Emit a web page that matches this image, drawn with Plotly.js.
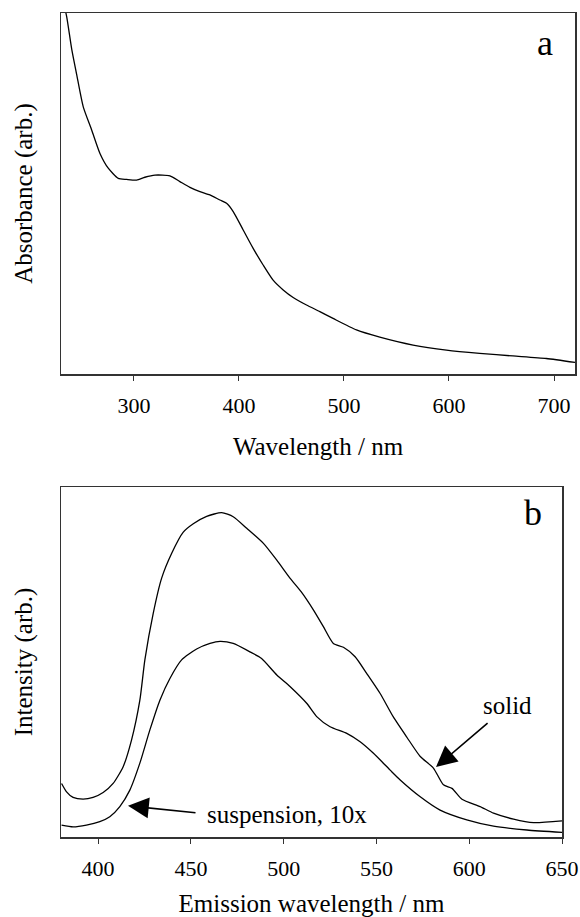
<!DOCTYPE html>
<html>
<head>
<meta charset="utf-8">
<script src="https://cdn.plot.ly/plotly-3.0.1.min.js"></script>
<style>html,body{margin:0;padding:0;background:#fff;}#chart{width:580px;height:917px;}</style>
</head>
<body>
<div id="chart"></div>
<script>
// Panel a: absorbance spectrum
const absWavelength = [232, 235.9, 240.7, 245.4, 251.7, 259.7, 267.6, 275.5, 285.0, 293.0, 302.5, 310.4, 320.0, 334.2, 343.7, 353.3, 362.8, 372.3, 381.8, 388.2, 394.5, 404.0, 413.5, 423.0, 432.5, 442.1, 451.6, 464.3, 477.0, 489.6, 511.9, 534.1, 565.8, 597.6, 629.2, 660.9, 692.7, 720];
const absorbance = [1.04, 0.99, 0.90, 0.83, 0.740, 0.676, 0.611, 0.570, 0.542, 0.539, 0.537, 0.545, 0.551, 0.549, 0.533, 0.517, 0.505, 0.496, 0.482, 0.473, 0.450, 0.399, 0.348, 0.302, 0.260, 0.233, 0.212, 0.191, 0.173, 0.154, 0.122, 0.102, 0.080, 0.066, 0.057, 0.050, 0.043, 0.032];

// Panel b: emission spectra
const solidWavelength = [380.3, 383.0, 386.5, 391.9, 397.3, 402.7, 408.1, 413.5, 418.0, 422.5, 425.2, 429.7, 434.2, 439.6, 445.9, 451.3, 458.5, 466.6, 472.8, 480.1, 489.1, 496.3, 503.5, 509.4, 516.0, 521.4, 526.8, 532.2, 538.5, 544.8, 552.0, 559.1, 566.4, 573.6, 580.7, 586.1, 590.7, 596.1, 605.9, 613.1, 623.9, 634.7, 650];
const solidIntensity = [0.153, 0.129, 0.113, 0.108, 0.113, 0.127, 0.153, 0.201, 0.277, 0.391, 0.506, 0.639, 0.739, 0.810, 0.871, 0.895, 0.916, 0.927, 0.915, 0.882, 0.839, 0.791, 0.739, 0.701, 0.649, 0.601, 0.553, 0.542, 0.515, 0.467, 0.410, 0.343, 0.285, 0.230, 0.197, 0.149, 0.139, 0.108, 0.087, 0.068, 0.051, 0.041, 0.046];

const suspWavelength = [380.3, 386.5, 393.7, 400.9, 406.3, 411.7, 417.1, 422.5, 427.9, 433.3, 438.7, 445.0, 453.1, 460.3, 465.7, 472.8, 481.8, 488.1, 496.3, 503.4, 512.4, 517.8, 525.0, 534.0, 541.2, 548.4, 557.4, 562.8, 573.6, 584.3, 598.7, 613.1, 631.1, 650];
const suspIntensity = [0.034, 0.029, 0.034, 0.044, 0.058, 0.087, 0.134, 0.211, 0.306, 0.391, 0.453, 0.506, 0.537, 0.553, 0.559, 0.553, 0.529, 0.510, 0.463, 0.430, 0.382, 0.344, 0.315, 0.296, 0.272, 0.239, 0.191, 0.163, 0.115, 0.077, 0.049, 0.031, 0.020, 0.013];

const topTicks = [300, 400, 500, 600, 700];
const bottomTicks = [400, 450, 500, 550, 600, 650];

const FONT = 'Liberation Serif, Times New Roman, Times, serif';
const lineStyle = {color: '#000', width: 1.3, shape: 'spline', smoothing: 0.6};

const traces = [
  {x: absWavelength, y: absorbance, type: 'scatter', mode: 'lines', line: lineStyle, xaxis: 'x', yaxis: 'y', name: 'absorbance'},
  {x: solidWavelength, y: solidIntensity, type: 'scatter', mode: 'lines', line: lineStyle, xaxis: 'x2', yaxis: 'y2', name: 'solid'},
  {x: suspWavelength, y: suspIntensity, type: 'scatter', mode: 'lines', line: lineStyle, xaxis: 'x2', yaxis: 'y2', name: 'suspension, 10x'}
];

const W = 580, H = 917;
const axisCommon = {
  showline: true, linecolor: '#333', linewidth: 1.5, mirror: true,
  showgrid: false, zeroline: false,
  ticks: 'outside', ticklen: 5, tickwidth: 1, tickcolor: '#333',
  tickfont: {family: FONT, size: 22, color: '#000'},
  ticklabelstandoff: 6
};
const yCommon = {
  showline: true, linecolor: '#333', linewidth: 1.5, mirror: true,
  showgrid: false, zeroline: false, showticklabels: false, ticks: ''
};

const layout = {
  width: W, height: H,
  margin: {l: 0, r: 0, t: 0, b: 0},
  paper_bgcolor: '#fff', plot_bgcolor: '#fff',
  showlegend: false,
  font: {family: FONT, color: '#000'},
  xaxis: Object.assign({}, axisCommon, {
    domain: [61 / W, 575 / W], range: [230.5, 720], anchor: 'y',
    tickvals: topTicks, ticktext: topTicks.map(String),
    title: {text: 'Wavelength / nm', font: {family: FONT, size: 25, color: '#000'}, standoff: 20}
  }),
  yaxis: Object.assign({}, yCommon, {
    domain: [(H - 374) / H, (H - 13) / H], range: [0, 1], anchor: 'x',
    title: {text: 'Absorbance (arb.)', font: {family: FONT, size: 25, color: '#000'}, standoff: 20}
  }),
  xaxis2: Object.assign({}, axisCommon, {
    domain: [61 / W, 562 / W], range: [380, 650], anchor: 'y2',
    tickvals: bottomTicks, ticktext: bottomTicks.map(String),
    title: {text: 'Emission wavelength / nm', font: {family: FONT, size: 25, color: '#000'}, standoff: 18}
  }),
  yaxis2: Object.assign({}, yCommon, {
    domain: [(H - 837) / H, (H - 487) / H], range: [0, 1], anchor: 'x2',
    title: {text: 'Intensity (arb.)', font: {family: FONT, size: 25, color: '#000'}, standoff: 20}
  }),
  annotations: [
    {xref: 'x', yref: 'y', x: 691, y: 0.917, text: 'a', showarrow: false, font: {family: FONT, size: 36, color: '#000'}},
    {xref: 'x2', yref: 'y2', x: 634.5, y: 0.926, text: 'b', showarrow: false, font: {family: FONT, size: 36, color: '#000'}},
    {xref: 'x2', yref: 'y2', x: 620.5, y: 0.377, text: 'solid', showarrow: false, font: {family: FONT, size: 25, color: '#000'}},
    {xref: 'x2', yref: 'y2', x: 582.1, y: 0.20, axref: 'x2', ayref: 'y2', ax: 610.7, ay: 0.329, text: '', showarrow: true, arrowhead: 2, arrowsize: 2.6, arrowwidth: 1.6, arrowcolor: '#000'},
    {xref: 'x2', yref: 'y2', x: 457.6, y: 0.063, xanchor: 'left', text: 'suspension, 10x', showarrow: false, font: {family: FONT, size: 25, color: '#000'}},
    {xref: 'x2', yref: 'y2', x: 416.1, y: 0.089, axref: 'x2', ayref: 'y2', ax: 453.3, ay: 0.069, text: '', showarrow: true, arrowhead: 2, arrowsize: 2.6, arrowwidth: 1.6, arrowcolor: '#000'}
  ]
};

Plotly.newPlot('chart', traces, layout, {displayModeBar: false, staticPlot: true});
</script>
</body>
</html>
